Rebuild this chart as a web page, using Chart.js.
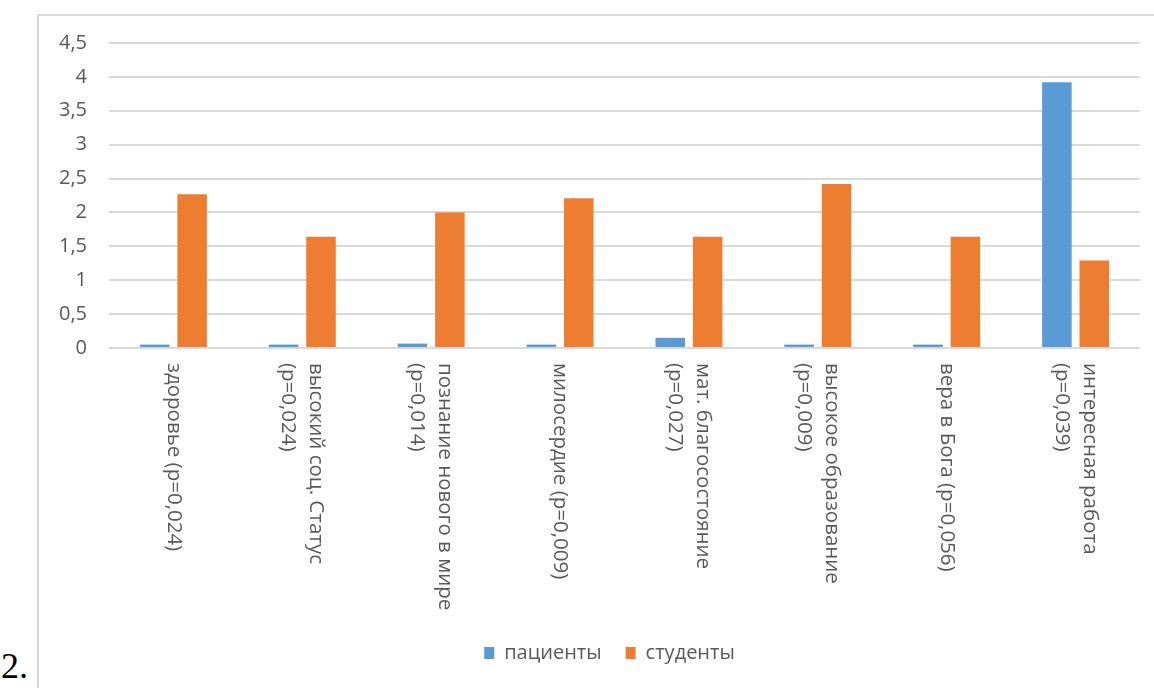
<!DOCTYPE html>
<html>
<head>
<meta charset="utf-8">
<script src="https://cdn.jsdelivr.net/npm/chart.js@4"></script>
<style>
    body { margin: 0; background: #fff; width: 1154px; height: 688px; overflow: hidden; position: relative; }
    #box { position: absolute; left: 37px; top: 14px; width: 1130px; height: 690px; border: 2px solid #d9d9d9; box-sizing: border-box; }
    #wrap { position: absolute; left: 39px; top: 16px; width: 1115px; height: 672px; }
    #num { position: absolute; left: 1px; top: 646px; font-family: "Liberation Serif", serif; font-size: 36px; line-height: 40px; color: #000; }
</style>
</head>
<body>
<div id="box"></div>
<div id="wrap"><canvas id="barChart"></canvas></div>
<div id="num">2.</div>
<script>
    // категории (строки подписи, первая строка — правее)
    var categories = [
        ["здоровье (p=0,024)"],
        ["высокий соц. Статус", "(p=0,024)"],
        ["познание нового в мире", "(p=0,014)"],
        ["милосердие (p=0,009)"],
        ["мат. благосостояние", "(p=0,027)"],
        ["высокое образование", "(p=0,009)"],
        ["вера в Бога (p=0,056)"],
        ["интересная работа", "(p=0,039)"]
    ];
    var seriesNames = ["пациенты", "студенты"];
    var patients = [0.05, 0.05, 0.065, 0.05, 0.15, 0.05, 0.05, 3.92];
    var students = [2.27, 1.64, 2.0, 2.21, 1.64, 2.42, 1.64, 1.29];
    var yTicks = [0, 0.5, 1, 1.5, 2, 2.5, 3, 3.5, 4, 4.5];

    var textColor = "#595959";
    var fontFamily = "'Open Sans', sans-serif";

    // подписи оси X, повернутые по часовой стрелке
    var rotatedLabels = {
        id: 'rotatedLabels',
        afterLayout: function (chart) {
            // легенда чуть правее центра, как в оригинале
            chart.legend.left += 20;
            chart.legend.right += 20;
        },
        afterDraw: function (chart) {
            var ctx = chart.ctx;
            var xs = chart.scales.x;
            ctx.save();
            ctx.font = "20.5px " + fontFamily;
            ctx.fillStyle = textColor;
            ctx.textAlign = "left";
            ctx.textBaseline = "middle";
            categories.forEach(function (lines, i) {
                var x = xs.getPixelForValue(i);
                ctx.save();
                ctx.translate(x, xs.top + 15);
                ctx.rotate(Math.PI / 2);
                lines.forEach(function (line, k) {
                    var off = (k - (lines.length - 1) / 2) * 28;
                    ctx.fillText(line, 0, off);
                });
                ctx.restore();
            });
            ctx.restore();
        }
    };

    var ctx = document.getElementById("barChart");
    new Chart(ctx, {
        type: 'bar',
        data: {
            labels: categories.map(function (c) { return c.join(" "); }),
            datasets: [{
                label: seriesNames[0],
                data: patients,
                backgroundColor: "#5B9BD5"
            }, {
                label: seriesNames[1],
                data: students,
                backgroundColor: "#ED7D31"
            }]
        },
        options: {
            responsive: true,
            maintainAspectRatio: false,
            animation: false,
            datasets: {
                bar: { categoryPercentage: 0.58, barPercentage: 0.79 }
            },
            layout: { padding: { top: 27, right: 14, left: 0, bottom: 15 } },
            plugins: {
                tooltip: { enabled: false },
                legend: {
                    position: 'bottom',
                    labels: {
                        boxWidth: 10,
                        boxHeight: 12,
                        padding: 24,
                        color: textColor,
                        font: { family: fontFamily, size: 20 }
                    }
                }
            },
            scales: {
                x: {
                    grid: { display: false },
                    border: { display: false },
                    ticks: { display: false },
                    afterFit: function (scale) { scale.height = 271; }
                },
                y: {
                    min: 0,
                    max: 4.5,
                    afterBuildTicks: function (scale) {
                        scale.ticks = yTicks.map(function (v) { return { value: v }; });
                    },
                    afterFit: function (scale) {
                        scale.width = 70;
                        scale.paddingTop = 0;
                        scale.paddingBottom = 0;
                    },
                    grid: { color: "#d9d9d9", lineWidth: 2, drawTicks: false },
                    border: { display: false },
                    ticks: {
                        padding: 22,
                        color: textColor,
                        font: { family: fontFamily, size: 20 },
                        callback: function (v) { return String(v).replace(".", ","); }
                    }
                }
            }
        },
        plugins: [rotatedLabels]
    });
</script>
</body>
</html>
